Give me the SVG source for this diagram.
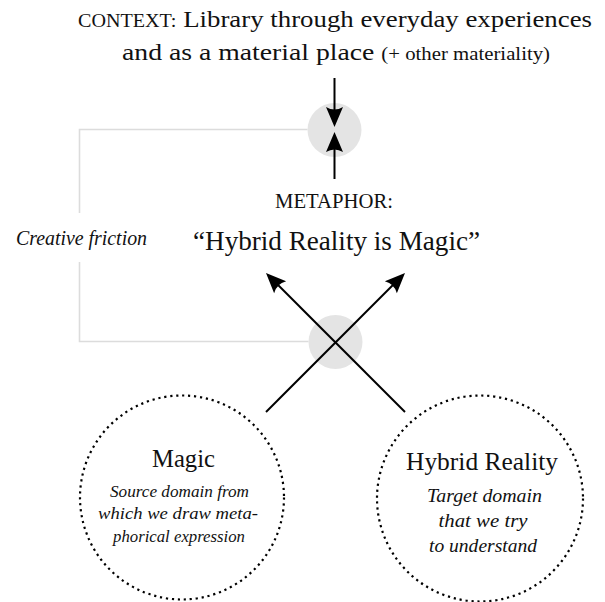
<svg xmlns="http://www.w3.org/2000/svg" width="605" height="602" viewBox="0 0 605 602">
  <style>
    text { font-family: "Liberation Serif", "DejaVu Serif", serif; fill: #111; }
    .it { font-style: italic; }
    .mid { text-anchor: middle; }
    .arrow { fill: none; stroke: #000; stroke-width: 2; marker-end: url(#head); }
    .bracket { fill: none; stroke: #dcdcdc; stroke-width: 1.6; }
    .junction { fill: #e4e4e4; }
    .domain { fill: none; stroke: #000; stroke-width: 2.2; stroke-dasharray: 2.2 3.8; }
  </style>
  <defs>
    <marker id="head" viewBox="0 0 30 20" refX="20" refY="10" markerWidth="30" markerHeight="20" markerUnits="userSpaceOnUse" orient="auto">
      <path d="M30,10 L10,1.5 Q15,10 10,18.5 Z" fill="#000"/>
    </marker>
  </defs>

  <g id="connectors">
    <path class="bracket" d="M307.5,129.5 H79.5 V213 M79.5,262 V341.5 H308.5"/>
    <circle id="junction-top" class="junction" cx="334.5" cy="130" r="27"/>
    <circle id="junction-bottom" class="junction" cx="335.5" cy="342" r="27"/>
    <path class="arrow" d="M334.5,78 V117"/>
    <path class="arrow" d="M334.5,179 V142"/>
    <path class="arrow" d="M405,412 L273.07,280.07"/>
    <path class="arrow" d="M266,412 L397.93,280.07"/>
  </g>

  <g id="context">
    <text x="78" y="27" font-size="24" textLength="514" lengthAdjust="spacingAndGlyphs"><tspan font-size="18">CONTEXT:</tspan> Library through everyday experiences</text>
    <text x="122" y="60" font-size="24" textLength="428" lengthAdjust="spacingAndGlyphs">and as a material place <tspan font-size="18">(+ other materiality)</tspan></text>
  </g>

  <g id="metaphor">
    <text x="275" y="208" font-size="20" textLength="118" lengthAdjust="spacingAndGlyphs">METAPHOR:</text>
    <text x="193" y="250" font-size="28" textLength="287" lengthAdjust="spacingAndGlyphs">“Hybrid Reality is Magic”</text>
  </g>

  <g id="creative-friction">
    <text class="it" x="16" y="245" font-size="20" textLength="131" lengthAdjust="spacingAndGlyphs">Creative friction</text>
  </g>

  <g id="magic">
    <circle class="domain" cx="182" cy="497.5" r="102"/>
    <text class="mid" x="183.5" y="467" font-size="25" textLength="63" lengthAdjust="spacingAndGlyphs">Magic</text>
    <text class="it mid" x="179.5" y="497" font-size="17" textLength="139" lengthAdjust="spacingAndGlyphs">Source domain from</text>
    <text class="it mid" x="178" y="519" font-size="17" textLength="160" lengthAdjust="spacingAndGlyphs">which we draw meta-</text>
    <text class="it mid" x="179" y="542" font-size="17" textLength="132" lengthAdjust="spacingAndGlyphs">phorical expression</text>
  </g>

  <g id="hybrid-reality">
    <circle class="domain" cx="480" cy="498.5" r="103"/>
    <text class="mid" x="482" y="470" font-size="25" textLength="152" lengthAdjust="spacingAndGlyphs">Hybrid Reality</text>
    <text class="it mid" x="484.5" y="502" font-size="19" textLength="115" lengthAdjust="spacingAndGlyphs">Target domain</text>
    <text class="it mid" x="483" y="527" font-size="19" textLength="89" lengthAdjust="spacingAndGlyphs">that we try</text>
    <text class="it mid" x="483" y="552" font-size="19" textLength="108" lengthAdjust="spacingAndGlyphs">to understand</text>
  </g>
</svg>
